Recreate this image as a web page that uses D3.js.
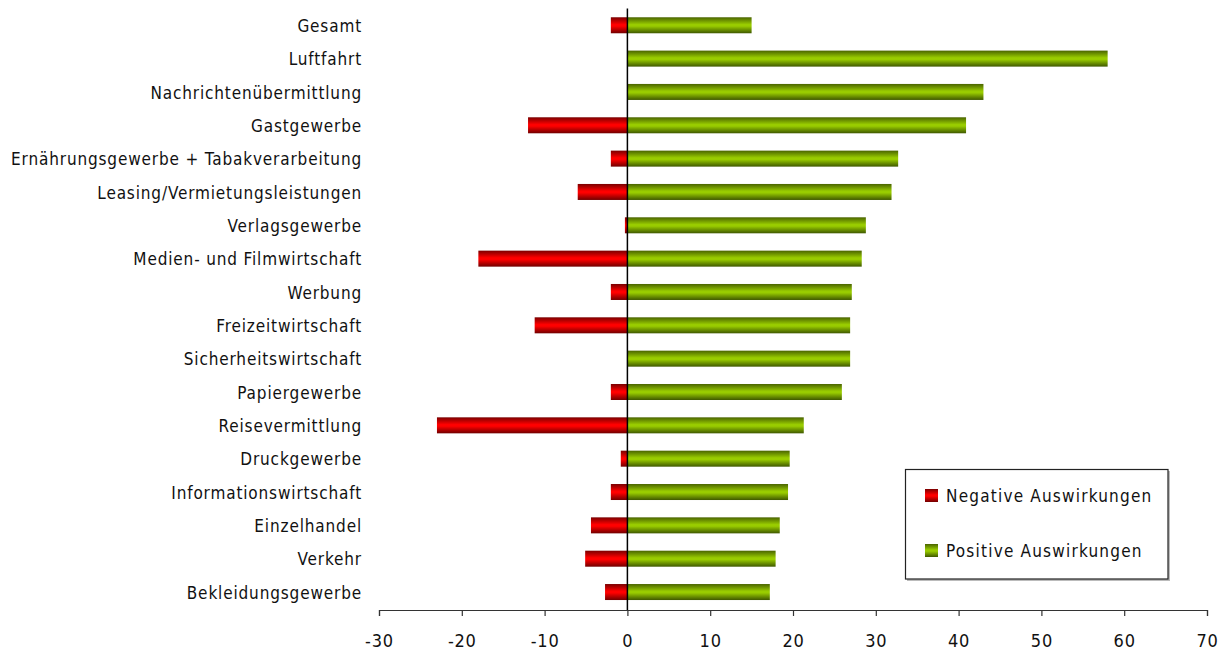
<!DOCTYPE html>
<html>
<head>
<meta charset="utf-8">
<script src="https://cdn.jsdelivr.net/npm/d3@7"></script>
<style>
  html, body { margin: 0; padding: 0; background: #fff; }
  svg { display: block; }
  text { font-family: "Liberation Sans Narrow", "DejaVu Sans Condensed", "Open Sans", sans-serif; fill: #111; }
</style>
</head>
<body>
<svg id="chart" width="1227" height="653"></svg>
<script>
// Branchen, von oben nach unten
const categories = [
  "Gesamt",
  "Luftfahrt",
  "Nachrichtenübermittlung",
  "Gastgewerbe",
  "Ernährungsgewerbe + Tabakverarbeitung",
  "Leasing/Vermietungsleistungen",
  "Verlagsgewerbe",
  "Medien- und Filmwirtschaft",
  "Werbung",
  "Freizeitwirtschaft",
  "Sicherheitswirtschaft",
  "Papiergewerbe",
  "Reisevermittlung",
  "Druckgewerbe",
  "Informationswirtschaft",
  "Einzelhandel",
  "Verkehr",
  "Bekleidungsgewerbe"
];
const negativeValues = [-2, 0, 0, -12, -2, -6, -0.3, -18, -2, -11.2, 0, -2, -23, -0.8, -2, -4.4, -5.1, -2.7];
const positiveValues = [15, 58, 43, 40.9, 32.7, 31.9, 28.8, 28.3, 27.1, 26.9, 26.9, 25.9, 21.3, 19.6, 19.4, 18.4, 17.9, 17.2];
const xTicks = [-30, -20, -10, 0, 10, 20, 30, 40, 50, 60, 70];
const seriesNames = ["Negative Auswirkungen", "Positive Auswirkungen"];

const svg = d3.select("#chart");

const x = d3.scaleLinear().domain([-30, 70]).range([379, 1207]);
const y = d3.scaleBand().domain(categories).range([8.6, 608.7]).paddingInner(0.52).paddingOuter(0.26);

// Verläufe für die Balken
const defs = svg.append("defs");
function gradient(id, edgeTop, mid, edgeBottom) {
  const g = defs.append("linearGradient").attr("id", id)
    .attr("x1", 0).attr("y1", 0).attr("x2", 0).attr("y2", 1);
  g.append("stop").attr("offset", "0%").attr("stop-color", edgeTop);
  g.append("stop").attr("offset", "45%").attr("stop-color", mid);
  g.append("stop").attr("offset", "55%").attr("stop-color", mid);
  g.append("stop").attr("offset", "100%").attr("stop-color", edgeBottom);
}
gradient("gradNeg", "#7a0000", "#ff0000", "#700000");
gradient("gradPos", "#4a6400", "#99cc00", "#3f5800");

const rows = categories.map((c, i) => ({ c, neg: negativeValues[i], pos: positiveValues[i] }));

// negative Balken
svg.append("g").selectAll("rect").data(rows.filter(d => d.neg < 0)).join("rect")
  .attr("x", d => x(d.neg))
  .attr("y", d => y(d.c))
  .attr("width", d => x(0) - x(d.neg))
  .attr("height", y.bandwidth())
  .attr("fill", "url(#gradNeg)");

// positive Balken
svg.append("g").selectAll("rect").data(rows).join("rect")
  .attr("x", x(0))
  .attr("y", d => y(d.c))
  .attr("width", d => x(d.pos) - x(0))
  .attr("height", y.bandwidth())
  .attr("fill", "url(#gradPos)");

// Nulllinie
svg.append("line")
  .attr("x1", x(0)).attr("x2", x(0))
  .attr("y1", 8.6).attr("y2", 610)
  .attr("stroke", "#000").attr("stroke-width", 1.5);

// Kategorienbeschriftung
svg.append("g").selectAll("text").data(categories).join("text")
  .attr("x", 362)
  .attr("y", d => y(d) + y.bandwidth() / 2 + 0.8)
  .attr("dy", "0.35em")
  .attr("text-anchor", "end")
  .style("font-size", "17px")
  .style("letter-spacing", "0.85px")
  .text(d => d);

// x-Achse (Bindestrich als Minuszeichen)
const xAxis = d3.axisBottom(x).tickValues(xTicks).tickSize(6).tickPadding(18)
  .tickFormat(d => String(d));
const gx = svg.append("g").attr("transform", "translate(0,610)").call(xAxis);
gx.select(".domain").attr("stroke", "#333").attr("stroke-width", 1.2);
gx.selectAll(".tick line").attr("stroke", "#333").attr("stroke-width", 1.2);
gx.selectAll(".tick text")
  .style("font-family", "\"Liberation Sans Narrow\", \"DejaVu Sans Condensed\", sans-serif")
  .style("font-size", "18px")
  .style("letter-spacing", "0.8px")
  .attr("fill", "#111");

// Legende
const legend = svg.append("g");
legend.append("rect").attr("x", 907).attr("y", 471).attr("width", 263).attr("height", 110).attr("fill", "#bbb");
legend.append("rect").attr("x", 905.5).attr("y", 469.5).attr("width", 262.5).attr("height", 109.5)
  .attr("fill", "#fff").attr("stroke", "#222").attr("stroke-width", 1.2);
const legendY = [496, 551];
const legendFill = ["url(#gradNeg)", "url(#gradPos)"];
seriesNames.forEach((name, i) => {
  legend.append("rect").attr("x", 925).attr("y", legendY[i] - 7).attr("width", 13).attr("height", 13).attr("fill", legendFill[i]);
  legend.append("text").attr("x", 946).attr("y", legendY[i]).attr("dy", "0.35em")
    .style("font-size", "17px").style("letter-spacing", "1.2px").text(name);
});
</script>
</body>
</html>
